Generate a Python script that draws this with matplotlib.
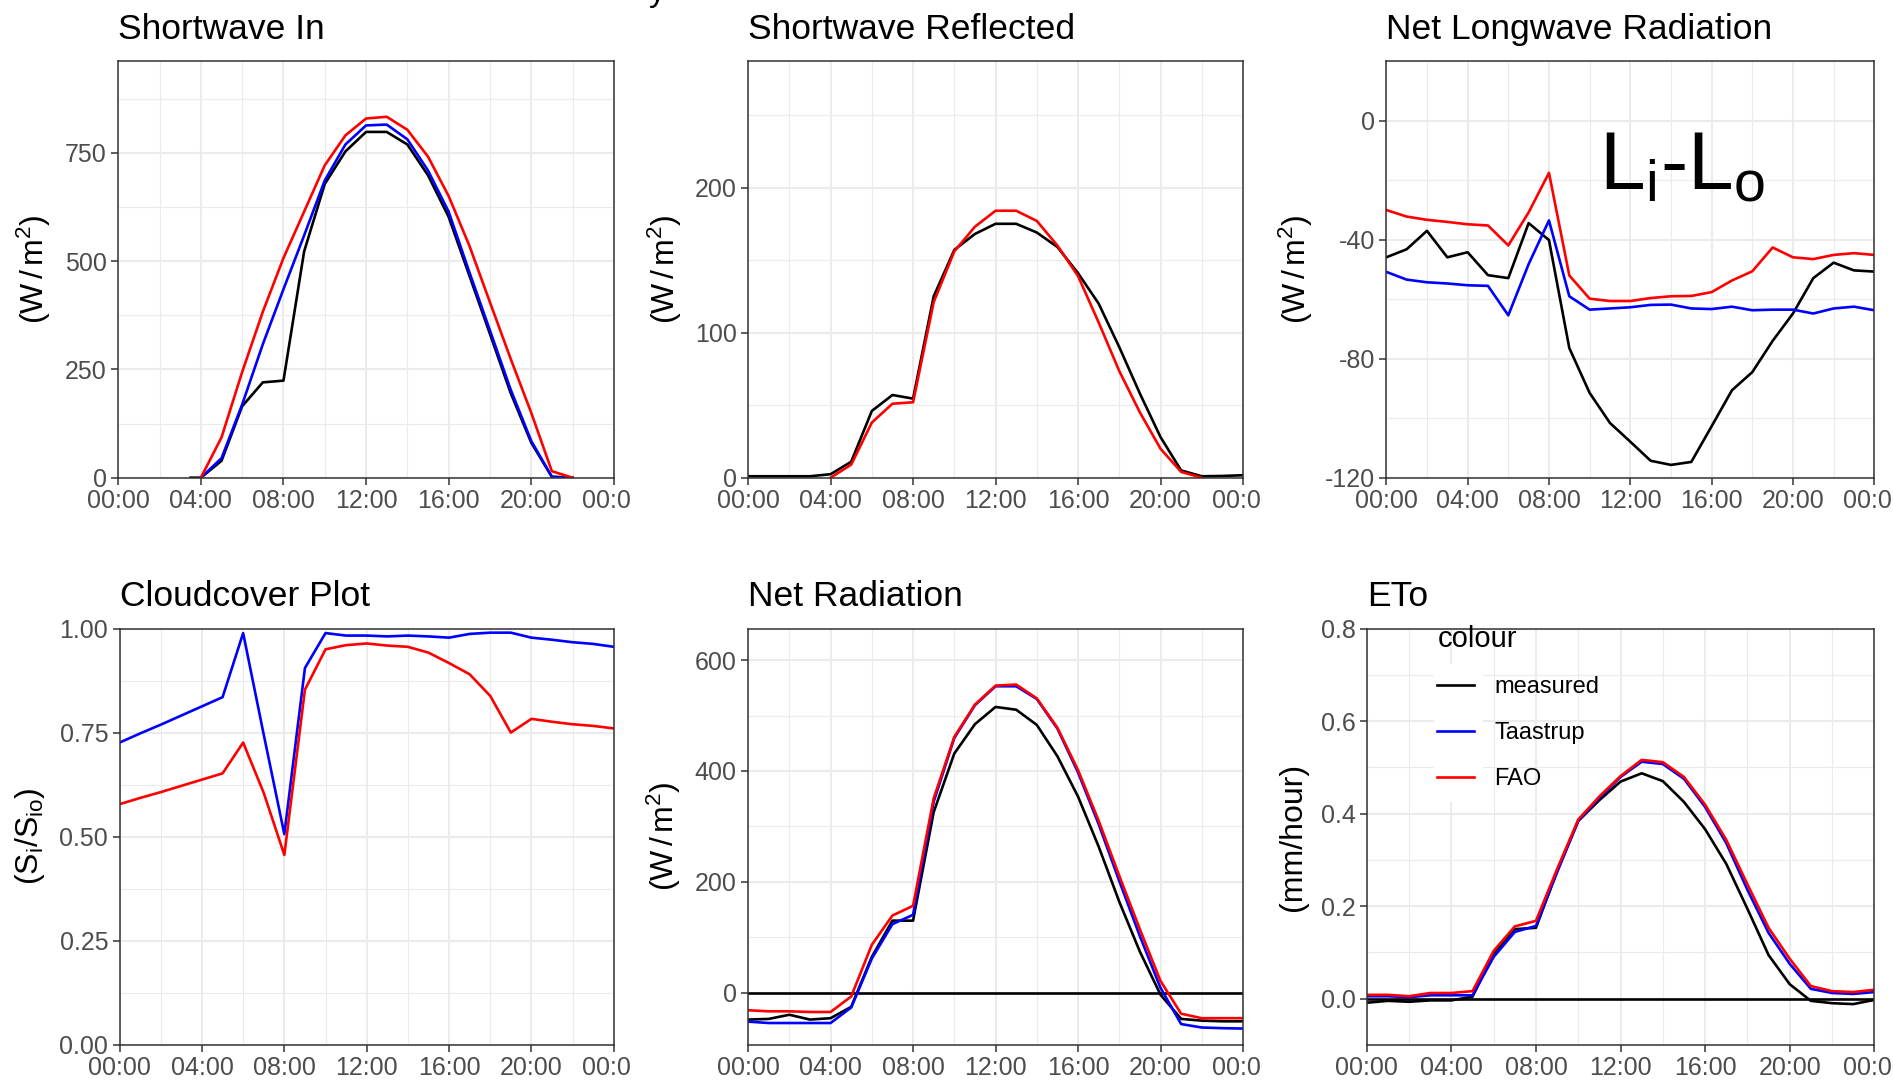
import matplotlib
matplotlib.use("Agg")
import matplotlib.pyplot as plt
from matplotlib.patches import Rectangle
from matplotlib.transforms import Bbox, TransformedBbox

plt.rcParams["font.family"] = ["Liberation Sans", "DejaVu Sans"]
plt.rcParams["mathtext.fontset"] = "custom"
plt.rcParams["mathtext.rm"] = "Liberation Sans"
plt.rcParams["mathtext.it"] = "Liberation Sans:italic"
plt.rcParams["mathtext.bf"] = "Liberation Sans:bold"
plt.rcParams["axes.unicode_minus"] = False

# hourly time axis, 00:00 to 00:00 next day
hours = list(range(25))
hour_ticks = [0, 4, 8, 12, 16, 20, 24]
hour_labels = ["00:00", "04:00", "08:00", "12:00", "16:00", "20:00", "00:00"]
minor_hours = [2, 6, 10, 14, 18, 22]

# shortwave in (W/m2), daylight hours only
sw_in_hours = list(range(4, 23))
sw_in_measured_hours = [3.5] + sw_in_hours
sw_in_measured = [0, 0, 39, 165, 220, 224, 522, 678, 753, 798, 798, 769, 698,
                  602, 467, 332, 196, 81, 2, 0]
sw_in_taastrup = [0, 45, 169, 308, 435, 559, 686, 769, 813, 815, 781, 709, 614,
                  475, 340, 204, 85, 2, 0]
sw_in_fao = [0, 93, 244, 383, 507, 614, 721, 790, 829, 833, 803, 741, 650,
             536, 405, 275, 150, 15, 0]

# shortwave reflected (W/m2)
sw_ref_measured = [1, 1, 1, 1, 2.4, 11, 46, 57, 54.5, 125, 157, 168, 175, 175,
                   169, 159, 141, 120, 90, 58, 28, 5, 1, 1.2, 1.7]
sw_ref_fao = [0, 9, 38, 51, 52, 121, 156, 173, 184, 184, 177, 160, 139, 107,
              73.5, 45, 20, 4, 0]

# net longwave Li - Lo (W/m2)
lw_measured = [-45.9, -43.2, -37, -45.9, -44.2, -51.9, -52.9, -34.4, -40.1,
               -76.4, -91.5, -101.6, -107.9, -114.3, -115.7, -114.7, -102.7,
               -90.6, -84.5, -74, -64.8, -52.9, -47.7, -50.3, -50.7]
lw_taastrup = [-50.8, -53.4, -54.3, -54.7, -55.3, -55.5, -65.4, -48.2, -33.5,
               -59, -63.5, -63.1, -62.7, -61.9, -61.8, -63.1, -63.3, -62.5,
               -63.7, -63.5, -63.5, -64.8, -63.1, -62.5, -63.7]
lw_fao = [-30.0, -32.2, -33.3, -34, -34.8, -35.2, -41.9, -30.8, -17.5, -52,
          -59.8, -60.6, -60.6, -59.6, -59, -58.9, -57.6, -53.7, -50.6, -42.6,
          -45.9, -46.5, -45.1, -44.5, -45.1]

# cloud cover ratio Si/Sio
cloud_taastrup = [0.726, 0.748, 0.769, 0.791, 0.813, 0.835, 0.989, 0.745, 0.506,
                  0.905, 0.989, 0.983, 0.983, 0.981, 0.983, 0.981, 0.978, 0.987,
                  0.990, 0.990, 0.978, 0.973, 0.967, 0.963, 0.956]
cloud_fao = [0.578, 0.593, 0.607, 0.622, 0.637, 0.652, 0.726, 0.605, 0.456,
             0.853, 0.950, 0.960, 0.964, 0.959, 0.956, 0.942, 0.917, 0.890,
             0.838, 0.750, 0.783, 0.776, 0.770, 0.766, 0.760]

# net radiation (W/m2)
rn_measured = [-48.5, -47.3, -39.8, -48.5, -46, -25.5, 64.7, 130, 130, 325.8,
               431.5, 484.4, 515.5, 510.5, 483.1, 426.5, 353.8, 263.6, 164.1,
               74, -3.7, -47.3, -50.4, -51.6, -51.6]
rn_taastrup = [-52.2, -54.7, -54.7, -54.7, -54.7, -26.7, 61.6, 123.7, 140.5,
               344.5, 459.5, 518.6, 552.8, 552.8, 529.8, 476.3, 397.3, 304,
               201.5, 102, 8.7, -56.6, -62.8, -64, -64.7]
rn_fao = [-31.7, -33.6, -33.6, -34.8, -34.8, -6.8, 86.4, 139.3, 156.7, 350.7,
          461.4, 519.8, 554, 555.9, 531, 478, 401.7, 310.3, 210.8, 114.4, 21.1,
          -37.9, -46, -46, -46]

# reference evapotranspiration (mm/hour)
eto_measured = [-0.009, -0.005, -0.007, -0.004, -0.004, 0.004, 0.098, 0.150,
                0.153, 0.276, 0.384, 0.429, 0.469, 0.487, 0.470, 0.425, 0.366,
                0.291, 0.194, 0.094, 0.031, -0.005, -0.010, -0.012, -0.003]
eto_taastrup = [0.005, 0.005, 0.003, 0.007, 0.007, 0.007, 0.090, 0.144, 0.157,
                0.273, 0.384, 0.434, 0.479, 0.512, 0.507, 0.475, 0.414, 0.336,
                0.235, 0.142, 0.075, 0.021, 0.012, 0.010, 0.014]
eto_fao = [0.008, 0.008, 0.005, 0.012, 0.012, 0.016, 0.103, 0.156, 0.168, 0.280,
           0.387, 0.437, 0.481, 0.516, 0.511, 0.479, 0.419, 0.343, 0.247, 0.153,
           0.086, 0.027, 0.016, 0.014, 0.019]

series_labels = ["measured", "Taastrup", "FAO"]
colors = {"measured": "black", "Taastrup": "#0000FF", "FAO": "#FF0000"}
LW = 1.9

W, H = 1893, 1080
fig = plt.figure(figsize=(W / 100, H / 100), dpi=100)


def panel(left, top, right, bottom):
    return fig.add_axes([left / W, 1 - bottom / H, (right - left) / W, (bottom - top) / H])


def style(ax, title, ylabel, label_px, yticks, ylabels, yminor, ylim):
    ax.set_xlim(0, 24)
    ax.set_ylim(*ylim)
    ax.set_xticks(hour_ticks)
    ax.set_xticklabels(hour_labels)
    ax.set_xticks(minor_hours, minor=True)
    ax.set_yticks(yticks)
    ax.set_yticklabels(ylabels)
    ax.set_yticks(yminor, minor=True)
    ax.grid(which="major", color="#EBEBEB", lw=1.5)
    ax.grid(which="minor", color="#EBEBEB", lw=0.8)
    ax.set_axisbelow(True)
    ax.tick_params(which="major", length=4.7, width=1.1, color="#333333",
                   labelsize=18, labelcolor="#4D4D4D", pad=3.5)
    ax.tick_params(which="minor", length=0)
    for s in ax.spines.values():
        s.set_color("#333333")
        s.set_linewidth(1.1)
    ax.set_title(title, loc="left", fontsize=25.5, pad=16.4)
    ax.set_ylabel(ylabel, fontsize=23, va="center")
    bb = ax.get_position()
    ax.yaxis.set_label_coords((label_px / W - bb.x0) / bb.width, 0.5)


ax1 = panel(118.3, 61.3, 613.8, 477.7)
ax2 = panel(748.1, 61.3, 1243.0, 477.7)
ax3 = panel(1386.3, 61.3, 1874.3, 477.7)
ax4 = panel(119.6, 628.5, 613.8, 1044.8)
ax5 = panel(748.1, 628.5, 1243.0, 1044.8)
ax6 = panel(1366.8, 628.5, 1874.3, 1044.8)

wm2 = r"(W$\,$/$\,$m$^{2}$)"

# Shortwave In
ax1.plot(sw_in_measured_hours, sw_in_measured, color=colors["measured"], lw=LW)
ax1.plot(sw_in_hours, sw_in_taastrup, color=colors["Taastrup"], lw=LW)
ax1.plot(sw_in_hours, sw_in_fao, color=colors["FAO"], lw=LW)
style(ax1, "Shortwave In", wm2, 33.5, [0, 250, 500, 750], ["0", "250", "500", "750"],
      [125, 375, 625, 875], (0, 961))

# Shortwave Reflected
ax2.plot(hours, sw_ref_measured, color=colors["measured"], lw=LW)
ax2.plot(sw_in_hours, sw_ref_fao, color=colors["FAO"], lw=LW)
style(ax2, "Shortwave Reflected", wm2, 664.5, [0, 100, 200], ["0", "100", "200"],
      [50, 150, 250], (0, 287))

# Net Longwave Radiation
ax3.plot(hours, lw_measured, color=colors["measured"], lw=LW)
ax3.plot(hours, lw_taastrup, color=colors["Taastrup"], lw=LW)
ax3.plot(hours, lw_fao, color=colors["FAO"], lw=LW)
style(ax3, "Net Longwave Radiation", wm2, 1296, [-120, -80, -40, 0],
      ["-120", "-80", "-40", "0"], [-100, -60, -20, 20], (-120, 20))
ax3.text(0.436, 0.692, r"$\mathrm{L_i}$-$\mathrm{L_o}$", transform=ax3.transAxes,
         fontsize=59, ha="left", va="baseline")

# Cloudcover Plot
ax4.plot(hours, cloud_taastrup, color=colors["Taastrup"], lw=LW)
ax4.plot(hours, cloud_fao, color=colors["FAO"], lw=LW)
style(ax4, "Cloudcover Plot", r"(S$_{\mathrm{i}}$/S$_{\mathrm{io}}$)", 30,
      [0, 0.25, 0.5, 0.75, 1.0], ["0.00", "0.25", "0.50", "0.75", "1.00"],
      [0.125, 0.375, 0.625, 0.875], (0, 1))

# Net Radiation
ax5.axhline(0, color="black", lw=LW)
ax5.plot(hours, rn_measured, color=colors["measured"], lw=LW)
ax5.plot(hours, rn_taastrup, color=colors["Taastrup"], lw=LW)
ax5.plot(hours, rn_fao, color=colors["FAO"], lw=LW)
style(ax5, "Net Radiation", wm2, 664, [0, 200, 400, 600], ["0", "200", "400", "600"],
      [100, 300, 500], (-94, 657))

# ETo with legend
ax6.axhline(0, color="black", lw=LW)
handles = []
for name, vals in zip(series_labels, [eto_measured, eto_taastrup, eto_fao]):
    line, = ax6.plot(hours, vals, color=colors[name], lw=LW, label=name)
    handles.append(line)
style(ax6, "ETo", "(mm/hour)", 1293, [0, 0.2, 0.4, 0.6, 0.8],
      ["0.0", "0.2", "0.4", "0.6", "0.8"], [-0.1, 0.1, 0.3, 0.5, 0.7], (-0.1, 0.8))
ax6.add_patch(Rectangle((0.133, 0.584), 0.096, 0.331, transform=ax6.transAxes,
                        facecolor="white", edgecolor="none", zorder=1))
ax6.legend(handles, series_labels, title="colour", loc="upper left",
           bbox_to_anchor=(0.139, 1.0096), frameon=False, fontsize=17,
           title_fontsize=21, handlelength=1.54, handletextpad=0.86,
           labelspacing=1.01, borderpad=0, borderaxespad=0, alignment="left")

# tail of the figure heading above the top edge
fig.text(657 / W, 1 - 1 / H, "y", fontsize=24, ha="center", va="baseline")

# cut the last tick label at each plot cell edge
fig.canvas.draw()
cells = [(0, 631), (631, 1262), (1262, 1893)]
for ax, (x0, x1) in zip([ax1, ax2, ax3, ax4, ax5, ax6], cells * 2):
    clip = TransformedBbox(Bbox.from_extents(x0 / W, 0, x1 / W, 1), fig.transFigure)
    for tick in ax.xaxis.get_major_ticks():
        tick.label1.set_clip_box(clip)
        tick.label1.set_clip_on(True)

fig.savefig("out.png", dpi=100)
